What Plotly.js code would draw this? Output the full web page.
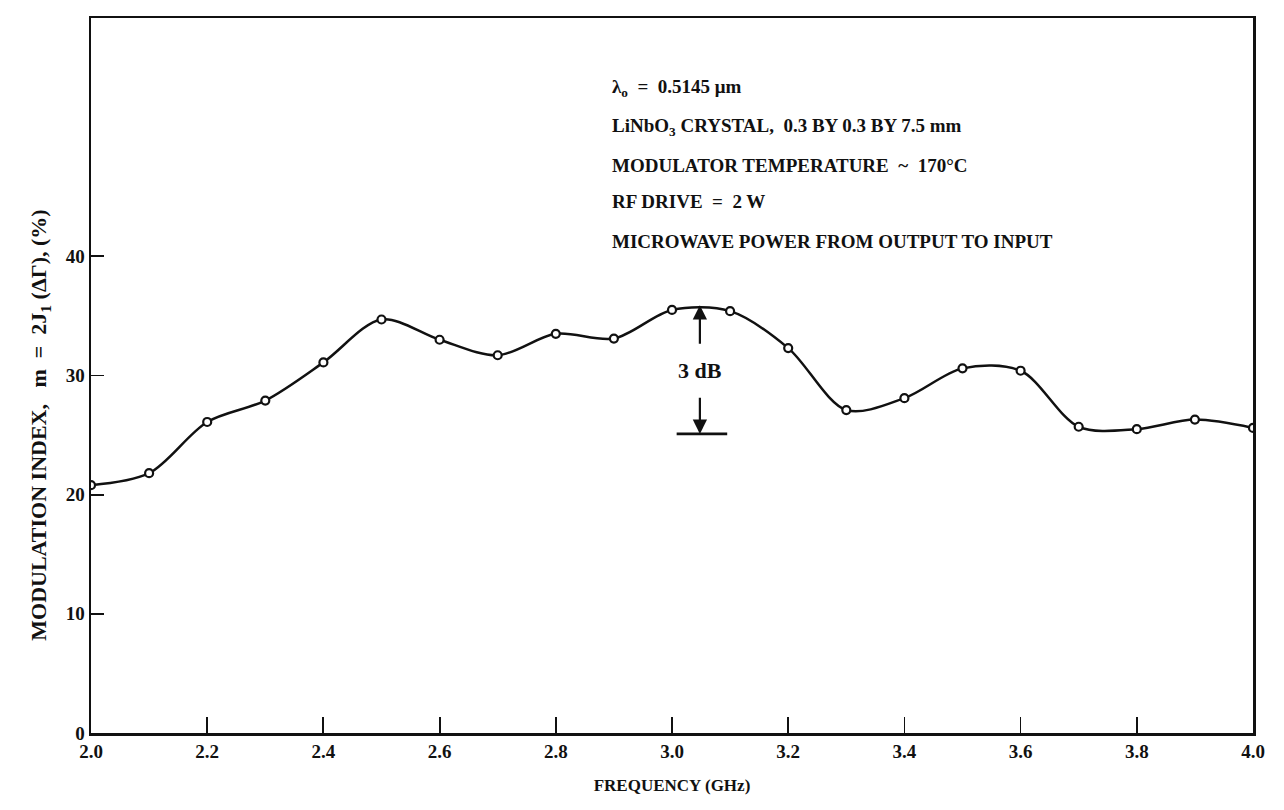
<!DOCTYPE html>
<html>
<head>
<meta charset="utf-8">
<script src="https://cdn.plot.ly/plotly-3.0.1.min.js"></script>
<style>
  html, body { margin: 0; padding: 0; background: #fff; }
  #chart { width: 1284px; height: 810px; }
</style>
</head>
<body>
<div id="chart"></div>
<script>
// Frequency (GHz)
const frequency = [2.0, 2.1, 2.2, 2.3, 2.4, 2.5, 2.6, 2.7, 2.8, 2.9, 3.0, 3.1, 3.2, 3.3, 3.4, 3.5, 3.6, 3.7, 3.8, 3.9, 4.0];
// Modulation index (%)
const modIndex = [20.8, 21.8, 26.1, 27.9, 31.1, 34.7, 33.0, 31.7, 33.5, 33.1, 35.5, 35.4, 32.3, 27.1, 28.1, 30.6, 30.4, 25.7, 25.5, 26.3, 25.6];

const xTickVals = [2.0, 2.2, 2.4, 2.6, 2.8, 3.0, 3.2, 3.4, 3.6, 3.8, 4.0];
const xTickText = ["2.0", "2.2", "2.4", "2.6", "2.8", "3.0", "3.2", "3.4", "3.6", "3.8", "4.0"];
const yTickVals = [0, 10, 20, 30, 40];
const yTickText = ["0", "10", "20", "30", "40"];

const NB = "\u00A0";
const notes = [
  "λ<sub>o</sub>" + NB + NB + "=" + NB + NB + "0.5145 μm",
  "LiNbO<sub>3</sub> CRYSTAL," + NB + NB + "0.3 BY 0.3 BY 7.5 mm",
  "MODULATOR TEMPERATURE" + NB + NB + "~" + NB + NB + "170°C",
  "RF DRIVE" + NB + NB + "=" + NB + NB + "2 W",
  "MICROWAVE POWER FROM OUTPUT TO INPUT"
];
const yTitle = "MODULATION INDEX," + NB + NB + NB + "m" + NB + NB + "=" + NB + NB + "2J<sub>1</sub> (ΔΓ), (%)";
const xTitle = "FREQUENCY (GHz)";
const dbLabel = "3 dB";

// 3 dB marker
const peakLevel = 35.9;
const dbLevel = 25.1;
const dbFreq = 3.048;

const FONT = "Liberation Serif, Times New Roman, serif";

const trace = {
  x: frequency,
  y: modIndex,
  mode: "lines+markers",
  type: "scatter",
  line: { color: "#111", width: 2.5, shape: "spline", smoothing: 0.9 },
  marker: { symbol: "circle", size: 8, color: "#fff", line: { color: "#111", width: 2.2 } },
  hoverinfo: "x+y",
  showlegend: false
};

const noteY = [0.902, 0.848, 0.794, 0.743, 0.687];
const annotations = notes.map((t, i) => ({
  xref: "paper", yref: "paper",
  x: 0.4466, y: noteY[i],
  xanchor: "left", yanchor: "middle",
  text: "<b>" + t + "</b>",
  showarrow: false,
  font: { family: FONT, size: 19, color: "#111" }
}));

// y-axis title placed as rotated annotation
annotations.push({
  xref: "paper", yref: "paper",
  x: -0.044, y: 0.431,
  xanchor: "center", yanchor: "middle",
  textangle: -90,
  text: "<b>" + yTitle + "</b>",
  showarrow: false,
  font: { family: FONT, size: 22, color: "#111" }
});

// 3 dB label with the upward arrow to the peak
annotations.push({
  x: dbFreq, y: peakLevel, xref: "x", yref: "y",
  ax: dbFreq, ay: 30.4, axref: "x", ayref: "y",
  text: "<b>" + dbLabel + "</b>",
  standoff: 0,
  showarrow: true, arrowhead: 2, arrowsize: 1.3, arrowwidth: 2.2, arrowcolor: "#111",
  font: { family: FONT, size: 22, color: "#111" },
  borderpad: 14
});
// downward arrow to the -3 dB level
annotations.push({
  x: dbFreq, y: dbLevel, xref: "x", yref: "y",
  ax: dbFreq, ay: 30.4, axref: "x", ayref: "y",
  text: "<b>" + dbLabel + "</b>",
  showarrow: true, arrowhead: 2, arrowsize: 1.3, arrowwidth: 2.2, arrowcolor: "#111",
  font: { family: FONT, size: 22, color: "rgba(0,0,0,0)" },
  borderpad: 14
});

const layout = {
  width: 1284,
  height: 810,
  margin: { l: 91, r: 31, t: 18, b: 77 },
  paper_bgcolor: "#fff",
  plot_bgcolor: "#fff",
  font: { family: FONT, color: "#111" },
  xaxis: {
    range: [2.0, 4.0],
    tickvals: xTickVals,
    ticktext: xTickText,
    ticks: "inside",
    ticklen: 16,
    tickwidth: 1.8,
    tickcolor: "#111",
    showline: true,
    linecolor: "#111",
    linewidth: 2.5,
    mirror: true,
    showgrid: false,
    zeroline: false,
    tickfont: { family: FONT, size: 19, color: "#111", weight: "bold" },
    title: { text: "<b>" + xTitle + "</b>", font: { family: FONT, size: 17, color: "#111" }, standoff: 18 }
  },
  yaxis: {
    range: [0, 60],
    tickvals: yTickVals,
    ticktext: yTickText,
    ticks: "inside",
    ticklen: 13,
    tickwidth: 1.8,
    tickcolor: "#111",
    showline: true,
    linecolor: "#111",
    linewidth: 2.5,
    mirror: true,
    showgrid: false,
    zeroline: false,
    tickfont: { family: FONT, size: 19, color: "#111", weight: "bold" }
  },
  shapes: [{
    type: "line", xref: "x", yref: "y",
    x0: 3.008, x1: 3.095, y0: dbLevel, y1: dbLevel,
    line: { color: "#111", width: 2.8 }
  }],
  annotations: annotations
};

Plotly.newPlot("chart", [trace], layout, { displayModeBar: false, staticPlot: true });
</script>
</body>
</html>
